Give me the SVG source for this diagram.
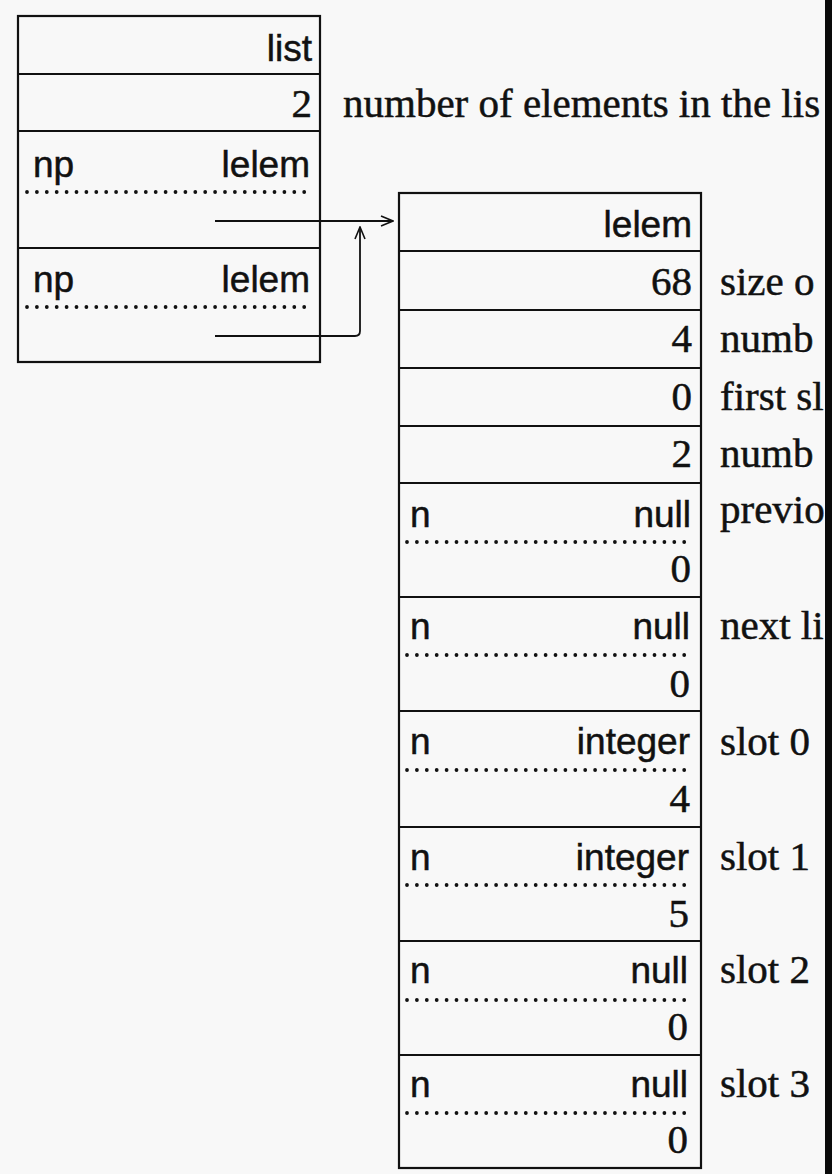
<svg xmlns="http://www.w3.org/2000/svg" width="832" height="1174" viewBox="0 0 832 1174">
<defs>
<marker id="open" viewBox="0 0 14 12" refX="13" refY="6" markerWidth="14" markerHeight="12" markerUnits="userSpaceOnUse" orient="auto">
<path d="M1,1 L13,6 L1,11" fill="none" stroke="#111" stroke-width="1.6"/>
</marker>
</defs>
<style>
.box{fill:none;stroke:#111;stroke-width:2.2}
.sep{stroke:#111;stroke-width:2.2}
.dot{stroke:#111;stroke-width:3.8;stroke-linecap:round;stroke-dasharray:0 9.9}
.sans{font-family:"Liberation Sans",Arial,sans-serif;font-size:37px;fill:#111;stroke:#111;stroke-width:0.5}
.serif{font-family:"Liberation Serif","Times New Roman",serif;font-size:41px;fill:#111;stroke:#111;stroke-width:0.5}
.r{text-anchor:end}
.conn{fill:none;stroke:#111;stroke-width:1.8}
</style>
<rect width="832" height="1174" fill="#f8f8f8"/>

<g id="list">
<rect class="box" x="18" y="16" width="302" height="346"/>
<line class="sep" x1="18" y1="74" x2="320" y2="74"/>
<line class="sep" x1="18" y1="131" x2="320" y2="131"/>
<line class="sep" x1="18" y1="248" x2="320" y2="248"/>
<line class="dot" x1="27" y1="192" x2="314" y2="192"/>
<line class="dot" x1="27" y1="307" x2="314" y2="307"/>
<text class="sans r" x="312" y="61">list</text>
<text class="serif r" x="312" y="117">2</text>
<text class="sans" x="33" y="177">np</text>
<text class="sans r" x="310" y="177">lelem</text>
<text class="sans" x="33" y="292">np</text>
<text class="sans r" x="310" y="292">lelem</text>
</g>

<g id="list-notes">
<text class="serif" x="343" y="117">number of elements in the lis</text>
</g>

<g id="lelem">
<rect class="box" x="399" y="193" width="302" height="975"/>
<line class="sep" x1="399" y1="251" x2="701" y2="251"/>
<line class="sep" x1="399" y1="310" x2="701" y2="310"/>
<line class="sep" x1="399" y1="368" x2="701" y2="368"/>
<line class="sep" x1="399" y1="426" x2="701" y2="426"/>
<line class="sep" x1="399" y1="483" x2="701" y2="483"/>
<line class="sep" x1="399" y1="597" x2="701" y2="597"/>
<line class="sep" x1="399" y1="711" x2="701" y2="711"/>
<line class="sep" x1="399" y1="827" x2="701" y2="827"/>
<line class="sep" x1="399" y1="941" x2="701" y2="941"/>
<line class="sep" x1="399" y1="1055" x2="701" y2="1055"/>
<line class="dot" x1="407" y1="542" x2="694" y2="542"/>
<line class="dot" x1="407" y1="655" x2="694" y2="655"/>
<line class="dot" x1="407" y1="770" x2="694" y2="770"/>
<line class="dot" x1="407" y1="885" x2="694" y2="885"/>
<line class="dot" x1="407" y1="1000" x2="694" y2="1000"/>
<line class="dot" x1="407" y1="1113" x2="694" y2="1113"/>
<text class="sans r" x="692" y="237">lelem</text>
<text class="serif r" x="692" y="295">68</text>
<text class="serif r" x="692" y="352">4</text>
<text class="serif r" x="692" y="410">0</text>
<text class="serif r" x="692" y="467">2</text>
<text class="sans" x="410" y="527">n</text>
<text class="sans r" x="691" y="527">null</text>
<text class="serif r" x="691" y="582">0</text>
<text class="sans" x="410" y="639">n</text>
<text class="sans r" x="690" y="639">null</text>
<text class="serif r" x="690" y="697">0</text>
<text class="sans" x="410" y="754">n</text>
<text class="sans r" x="690" y="754">integer</text>
<text class="serif r" x="690" y="812">4</text>
<text class="sans" x="410" y="870">n</text>
<text class="sans r" x="689" y="870">integer</text>
<text class="serif r" x="689" y="927">5</text>
<text class="sans" x="410" y="983">n</text>
<text class="sans r" x="688" y="983">null</text>
<text class="serif r" x="688" y="1040">0</text>
<text class="sans" x="410" y="1097">n</text>
<text class="sans r" x="688" y="1097">null</text>
<text class="serif r" x="688" y="1153">0</text>
</g>

<g id="lelem-notes">
<text class="serif" x="720" y="295">size o</text>
<text class="serif" x="720" y="352">numb</text>
<text class="serif" x="720" y="410">first sl</text>
<text class="serif" x="720" y="467">numb</text>
<text class="serif" x="720" y="523">previo</text>
<text class="serif" x="720" y="639">next li</text>
<text class="serif" x="720" y="755">slot 0</text>
<text class="serif" x="720" y="870">slot 1</text>
<text class="serif" x="720" y="983">slot 2</text>
<text class="serif" x="720" y="1097">slot 3</text>
</g>

<g id="connectors">
<path class="conn" d="M215,221 L393,221" marker-end="url(#open)"/>
<path class="conn" d="M215,336 L355,336 Q360,336 360,331 L360,227" marker-end="url(#open)"/>
</g>

<rect x="825" y="0" width="7" height="1174" fill="#0a0a0a"/>
</svg>
